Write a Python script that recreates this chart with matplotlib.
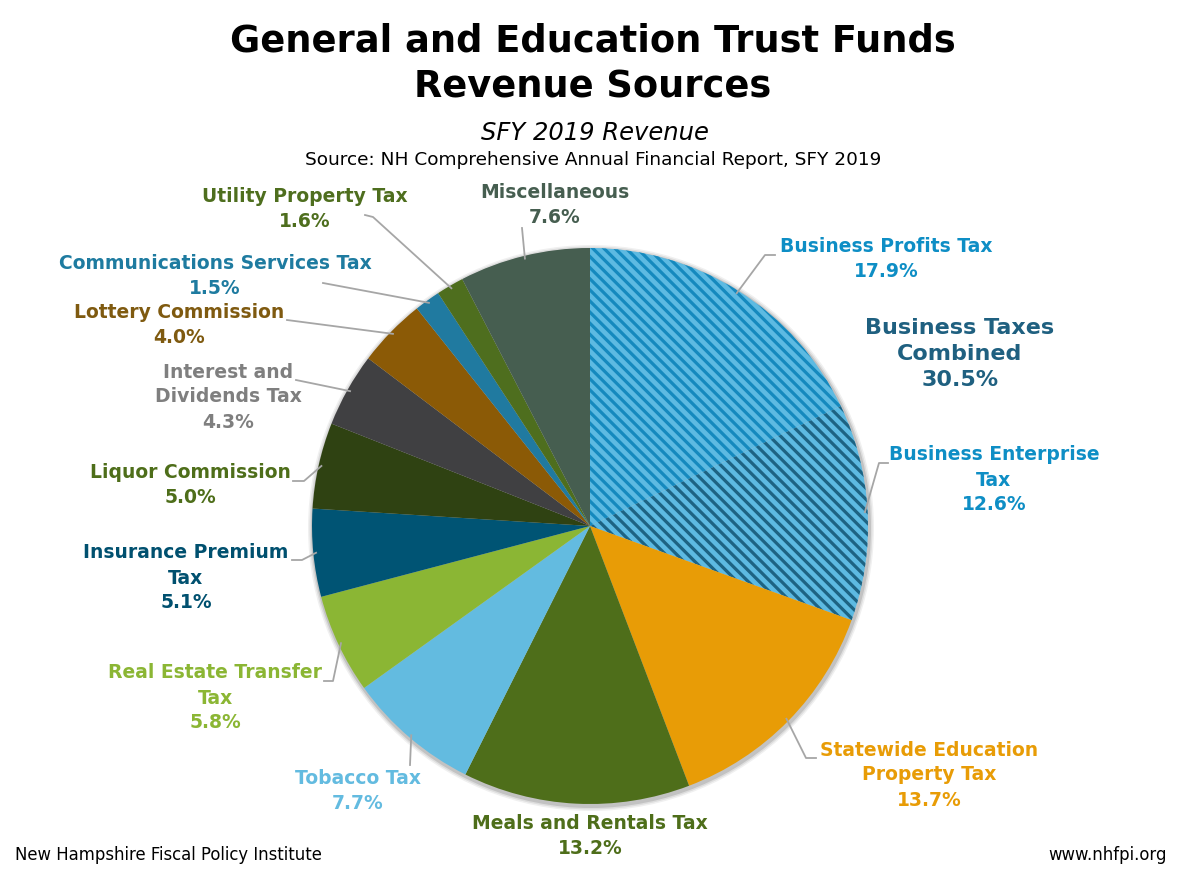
import numpy as np
import matplotlib
matplotlib.use('Agg')
import matplotlib.pyplot as plt
from matplotlib.patches import Circle

# data, clockwise from 12 o'clock
sources = ['Business Profits Tax', 'Business Enterprise\nTax',
           'Statewide Education\nProperty Tax', 'Meals and Rentals Tax',
           'Tobacco Tax', 'Real Estate Transfer\nTax', 'Insurance Premium\nTax',
           'Liquor Commission', 'Interest and\nDividends Tax',
           'Lottery Commission', 'Communications Services Tax',
           'Utility Property Tax', 'Miscellaneous']
shares = [17.9, 12.6, 13.7, 13.2, 7.7, 5.8, 5.1, 5.0, 4.3, 4.0, 1.5, 1.6, 7.6]
combined_label = 'Business Taxes\nCombined\n30.5%'

wedge_colors = ['#5DBAE2', '#5DBAE2', '#E89C06', '#4E6E1A', '#63BBE0',
                '#8BB634', '#005474', '#2F4212', '#404042', '#8B5A06',
                '#207AA0', '#4E6E1E', '#465E50']
hatch_colors = {0: '#1589BE', 1: '#1D6383'}
text_colors = ['#0E8EC5', '#0E8EC5', '#E89C06', '#4E6E1A', '#63BBE0',
               '#8BB634', '#00506F', '#4E6E1A', '#7F7F7F', '#7F5A10',
               '#1E7BA0', '#4E6E1E', '#465E50']

W, H = 1181, 869
plt.rcParams['hatch.linewidth'] = 2.3


def px(x, y):
    return x, H - y


fig = plt.figure(figsize=(W / 100, H / 100), dpi=100)
ax = fig.add_axes([0, 0, 1, 1])
ax.set_xlim(0, W)
ax.set_ylim(0, H)
ax.axis('off')

cx, cy = px(590, 526)
R = 278
# soft shadow under the pie
for k, a in [(5, 0.06), (3.5, 0.08), (2, 0.12)]:
    ax.add_patch(Circle((cx + 1, cy - 2), R + k, color='#000000', alpha=a,
                        lw=0, zorder=0))
wedges, _ = ax.pie(shares, colors=wedge_colors, startangle=90,
                   counterclock=False, center=(cx, cy), radius=R,
                   wedgeprops=dict(linewidth=0))
for i, hc in hatch_colors.items():
    wedges[i].set_hatch('\\\\\\')
    wedges[i].set_edgecolor(hc)
    wedges[i].set_linewidth(0)
ax.set_xlim(0, W)
ax.set_ylim(0, H)
ax.set_aspect('equal')

# label block centre (pixels) and leader-line elbow (pixels or None)
label_pos = [(886, 259), (994, 480), (929, 775), (590, 836), (358, 791),
             (215, 698), (186, 578), (190, 485), (228, 397), (179, 325),
             (215, 276), (305, 209), (555, 205)]
elbows = [[(775, 255), (765, 255)], [(888, 463), (879, 463)],
          [(816, 758), (806, 758)], None, [(410, 765)],
          [(324, 681), (333, 681)], [(292, 560), (302, 560)],
          [(293, 481), (304, 481)], [(296, 380)], [(287, 320)],
          [(323, 283)], [(365, 215), (373, 217)], [(522, 228)]]

for i, (lab, val) in enumerate(zip(sources, shares)):
    x, y = px(*label_pos[i])
    ax.text(x, y, '%s\n%.1f%%' % (lab, val), ha='center', va='center',
            fontsize=13.5, fontweight='bold', color=text_colors[i],
            linespacing=1.4)
    if elbows[i] is None:
        continue
    w = wedges[i]
    mid = np.deg2rad((w.theta1 + w.theta2) / 2)
    end = (cx + R * 0.99 * np.cos(mid), cy + R * 0.99 * np.sin(mid))
    pts = [px(*p) for p in elbows[i]] + [end]
    xs, ys = zip(*pts)
    ax.plot(xs, ys, color='#A6A6A6', lw=1.3)

ax.text(*px(960, 354), combined_label, ha='center', va='center',
        fontsize=16, fontweight='bold', color='#1F6080', linespacing=1.35)

ax.text(*px(593, 64), 'General and Education Trust Funds\nRevenue Sources',
        ha='center', va='center', fontsize=26.5, fontweight='bold',
        color='black', linespacing=1.3)
ax.text(*px(595, 133), 'SFY 2019 Revenue', ha='center', va='center',
        fontsize=17.5, style='italic')
ax.text(*px(593, 160),
        'Source: NH Comprehensive Annual Financial Report, SFY 2019',
        ha='center', va='center', fontsize=13.3)
ax.text(*px(15, 855), 'New Hampshire Fiscal Policy Institute', ha='left',
        va='center', fontsize=11.9)
ax.text(*px(1167, 855), 'www.nhfpi.org', ha='right', va='center',
        fontsize=11.9)

fig.savefig('out.png', dpi=100, facecolor='white')
